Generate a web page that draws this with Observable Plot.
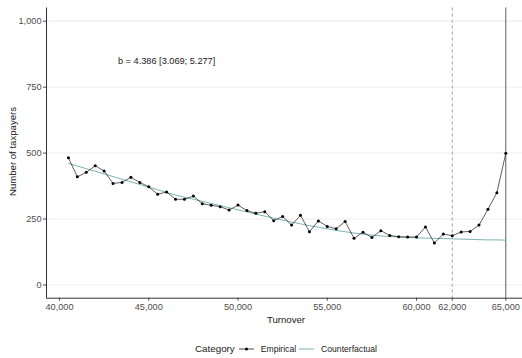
<!DOCTYPE html>
<html><head><meta charset="utf-8">
<script src="https://cdn.jsdelivr.net/npm/d3@7"></script>
<script src="https://cdn.jsdelivr.net/npm/@observablehq/plot@0.6"></script>
<style>
body{margin:0;background:#fff;font-family:"Liberation Sans",Arial,sans-serif;}
#wrap{position:relative;width:522px;height:358px;overflow:hidden;}
#xtitle{position:absolute;left:236px;width:100px;text-align:center;top:314px;font-size:9.6px;color:#1a1a1a;}
#ytitle{position:absolute;left:-38px;top:146px;width:100px;text-align:center;font-size:9.6px;color:#1a1a1a;transform:rotate(-90deg);white-space:nowrap;}
#legend{position:absolute;left:195px;top:343px;display:flex;align-items:center;font-size:8.6px;color:#1a1a1a;white-space:nowrap;}
#legend svg{display:block;}
</style></head><body><div id="wrap"></div>
<script>
const turnover = [40500,41000,41500,42000,42500,43000,43500,44000,44500,45000,
  45500,46000,46500,47000,47500,48000,48500,49000,49500,50000,
  50500,51000,51500,52000,52500,53000,53500,54000,54500,55000,
  55500,56000,56500,57000,57500,58000,58500,59000,59500,60000,
  60500,61000,61500,62000,62500,63000,63500,64000,64500,65000];
const empirical = [482,410,427,452,432,385,389,408,389,372,
  344,353,325,325,337,308,302,297,284,303,
  282,272,278,244,260,227,264,202,243,222,
  213,241,177,200,180,206,188,183,182,182,
  220,159,193,187,201,203,227,287,350,499];
const counterfactual = [461,451,441,431,421,411,401,391,381,371,
  361,351,341,333,325,317,309,301,293,285,
  277,269,261,253,246,239,232,225,219,213,
  207,202,197,193,189,186,184,182,180,179,
  178,177,176,175,174,173,172,171,171,170];
const xTicks = [40000,45000,50000,55000,60000,62000,65000];
const yTicks = [0,250,500,750,1000];
const threshold = 62000;
const limit = 65000;
const annotation = "b = 4.386 [3.069; 5.277]";
const annX = 46000, annY = 850;
const xDomain = [39272, 65936];
const yDomain = [-50, 1050];
const categories = ["Empirical", "Counterfactual"];
const colors = ["#1a1a1a", "#6fa9a9"];

const emp = turnover.map((t,i)=>({t, v: empirical[i]}));
const cf = turnover.map((t,i)=>({t, v: counterfactual[i]}));
const fmt = d3.format(",");

const chart = Plot.plot({
  width: 522, height: 330,
  marginLeft: 46, marginRight: 0, marginTop: 7.5, marginBottom: 32.3,
  style: {fontFamily: '"Liberation Sans", Arial, sans-serif', fontSize: "9.2px", background: "#fff", overflow: "visible"},
  x: {domain: xDomain},
  y: {domain: yDomain},
  marks: [
    Plot.gridY(yTicks, {stroke: "#ebebeb", strokeOpacity: 1, strokeWidth: 0.9}),
    Plot.ruleX([threshold], {stroke: "#a0a0a0", strokeDasharray: "3,3", strokeWidth: 1}),
    Plot.ruleX([limit], {stroke: "#4d4d4d", strokeWidth: 0.9}),
    Plot.line(cf, {x: "t", y: "v", stroke: colors[1], strokeWidth: 0.9}),
    Plot.line(emp, {x: "t", y: "v", stroke: colors[0], strokeWidth: 0.7}),
    Plot.dot(emp, {x: "t", y: "v", fill: "#000", stroke: null, r: 1.5}),
    Plot.text([{x: annX, y: annY, s: annotation}], {x: "x", y: "y", text: "s", fill: "#1a1a1a", fontSize: 9.2}),
    Plot.axisX({ticks: xTicks, tickFormat: fmt, tickSize: 3, tickPadding: 2, color: "#4d4d4d", label: null}),
    Plot.axisY({ticks: yTicks, tickFormat: fmt, tickSize: 3, tickPadding: 2, color: "#4d4d4d", label: null}),
    Plot.ruleX([xDomain[0]], {stroke: "#333", strokeWidth: 1}),
    Plot.ruleY([yDomain[0]], {stroke: "#333", strokeWidth: 1})
  ]
});
const wrap = document.getElementById("wrap");
wrap.appendChild(chart);
wrap.insertAdjacentHTML("beforeend",
  `<div id="xtitle">Turnover</div><div id="ytitle">Number of taxpayers</div>
   <div id="legend"><span style="font-size:9.8px;margin-right:4px">Category</span>
   <svg width="15" height="8"><line x1="0" x2="15" y1="4" y2="4" stroke="${colors[0]}" stroke-width="0.8"/><circle cx="7.5" cy="4" r="1.5" fill="#000"/></svg>
   <span style="margin-left:7px;margin-right:3px">${categories[0]}</span>
   <svg width="15" height="8"><line x1="0" x2="15" y1="4" y2="4" stroke="${colors[1]}" stroke-width="0.9"/></svg>
   <span style="margin-left:7px">${categories[1]}</span></div>`);
</script></body></html>
